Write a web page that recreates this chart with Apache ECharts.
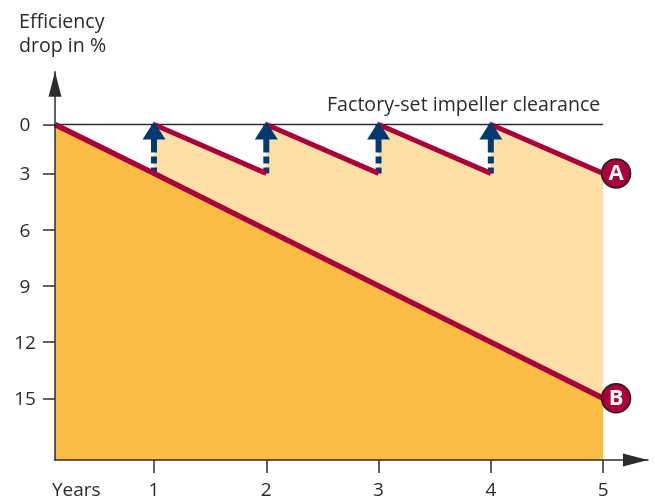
<!DOCTYPE html>
<html><head><meta charset="utf-8">
<script src="https://cdn.jsdelivr.net/npm/echarts@6/dist/echarts.min.js"></script>
<style>html,body{margin:0;padding:0;background:#fff}#c{width:655px;height:498px}</style>
</head><body><div id="c"></div>
<script>
// ---- data ----
const yearTicks = [1, 2, 3, 4, 5];
const dropTicks = [0, 3, 6, 9, 12, 15];
const lineBYears = [0, 1, 2, 3, 4, 5];
const lineBDrop = [0, 3, 6, 9, 12, 15];
const lineASegmentYears = [[1, 2], [2, 3], [3, 4], [4, 5]];
const lineASegmentDrop = [[0, 3], [0, 3], [0, 3], [0, 3]];
const arrowYears = [1, 2, 3, 4];
const arrowFromDrop = [3, 3, 3, 3];
const arrowToDrop = [0, 0, 0, 0];
const clearanceYears = [0, 5];
const clearanceDrop = [0, 0];

// The source drawing compresses the first interval of both axes.
const xp = v => (v === 0 ? 0.118 : v);
const yp = v => (v === 0 ? 0.395 : v);
const pt = (x, y) => [xp(x), yp(y)];

const RED = '#a9003c', NAVY = '#003a70', INK = '#2c2c2e', FONT = '"Open Sans", sans-serif';

const sawtooth = [];
lineASegmentYears.forEach((s, i) => {
  sawtooth.push(pt(s[0], lineASegmentDrop[i][0]), pt(s[1], lineASegmentDrop[i][1]));
});
const lineB = lineBYears.map((x, i) => pt(x, lineBDrop[i]));

const series = [
  { type: 'line', data: sawtooth, symbol: 'none', silent: true, z: 1, lineStyle: { width: 0 },
    areaStyle: { color: '#fddfa6', opacity: 1, origin: 'end' } },
  { type: 'line', data: lineB, symbol: 'none', z: 2, lineStyle: { width: 0 },
    areaStyle: { color: '#fbbc44', opacity: 1, origin: 'end' } },
  { type: 'line', data: clearanceYears.map((x, i) => pt(x, clearanceDrop[i])), symbol: 'none', z: 3,
    lineStyle: { color: INK, width: 1.5 } }
];
arrowYears.forEach((x, i) => {
  series.push({ type: 'line', data: [pt(x, arrowFromDrop[i]), pt(x, arrowToDrop[i])], symbol: 'none', z: 4,
    lineStyle: { color: NAVY, width: 6, type: [6, 4, 7, 4, 40], cap: 'butt' } });
});
lineASegmentYears.forEach((s, i) => {
  series.push({ type: 'line', data: [pt(s[0], lineASegmentDrop[i][0]), pt(s[1], lineASegmentDrop[i][1])],
    symbol: 'none', z: 5, lineStyle: { color: RED, width: 5, cap: 'butt' } });
});
series.push({ type: 'line', data: lineB, symbol: 'none', z: 5, lineStyle: { color: RED, width: 5.5, cap: 'butt' } });
series.push({ type: 'scatter', data: arrowYears.map((x, i) => pt(x, arrowToDrop[i])), symbol: 'triangle',
  symbolSize: [23, 18], symbolOffset: [0, 6], z: 6, itemStyle: { color: NAVY, opacity: 1 } });
const badge = (name, drop) => ({
  type: 'scatter', data: [pt(5, drop)], symbol: 'circle', symbolSize: 29, symbolOffset: [13, 0], z: 7,
  itemStyle: { color: RED, borderColor: '#231f20', borderWidth: 1.5, opacity: 1 },
  label: { show: true, position: 'inside', formatter: name, color: '#fff', fontFamily: FONT, fontWeight: 'bold', fontSize: 22 }
});
series.push(badge('A', lineASegmentDrop[3][1]), badge('B', lineBDrop[5]));

const chart = echarts.init(document.getElementById('c'), null, { renderer: 'canvas' });
const txt = (x, y, text, extra) => ({ type: 'text', x, y, silent: true, z: 20,
  style: Object.assign({ text, fill: '#2b2b2d', font: '19.6px ' + FONT, textVerticalAlign: 'middle' }, extra || {}) });
chart.setOption({
  animation: false,
  backgroundColor: '#fff',
  grid: { left: 55, right: 7, top: 71.7, bottom: 38, outerBoundsMode: 'none' },
  xAxis: {
    type: 'value', min: xp(0), max: 5.4, z: 10,
    splitLine: { show: false },
    axisLine: { onZero: false, lineStyle: { color: INK, width: 1.5 }, symbol: ['none', 'triangle'], symbolSize: [13, 25], symbolOffset: [0, -12.5] },
    axisTick: { show: true, inside: false, length: 13, customValues: yearTicks, lineStyle: { color: INK, width: 1.5 } },
    axisLabel: { show: true, customValues: yearTicks, margin: 21, color: '#2b2b2d', fontFamily: FONT, fontSize: 19 }
  },
  yAxis: {
    type: 'value', inverse: true, min: -2.424, max: 18.29, z: 10,
    splitLine: { show: false },
    axisLine: { onZero: false, lineStyle: { color: INK, width: 1.5 }, symbol: ['none', 'triangle'], symbolSize: [13, 25], symbolOffset: [0, -12.5] },
    axisTick: { show: true, length: 12, customValues: dropTicks.map(yp), lineStyle: { color: INK, width: 1.5 } },
    axisLabel: { show: true, customValues: dropTicks.map(yp), margin: 30, align: 'center', verticalAlign: 'middle', color: '#2b2b2d', fontFamily: FONT, fontSize: 19,
      formatter: v => '{t|' + dropTicks[dropTicks.map(yp).indexOf(v)] + '}',
      rich: { t: { color: '#2b2b2d', fontFamily: FONT, fontSize: 19, padding: [3, 0, 0, 0] } } }
  },
  series,
  graphic: [
    txt(19, 22, 'Efficiency'),
    txt(19, 46, 'drop in %'),
    txt(327, 105, 'Factory-set impeller clearance'),
    txt(52, 490.5, 'Years', { font: '19px ' + FONT })
  ]
});
</script></body></html>
